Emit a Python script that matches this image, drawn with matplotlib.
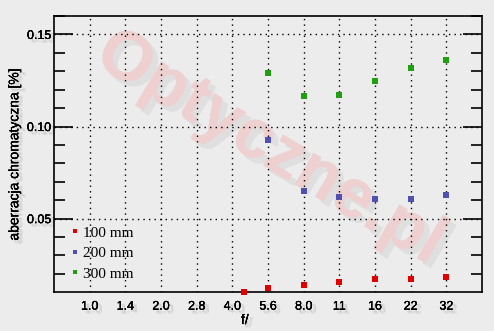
import numpy as np
import matplotlib
matplotlib.use("Agg")
import matplotlib.pyplot as plt
import matplotlib.patheffects as pe

# ---- data ----
tick_labels = ["1.0", "1.4", "2.0", "2.8", "4.0", "5.6", "8.0", "11", "16", "22", "32"]
f_100 = [4.5, 5.6, 8.0, 11, 16, 22, 32]
ca_100 = [0.0101, 0.0125, 0.0141, 0.0158, 0.0174, 0.0174, 0.0185]
f_200 = [5.6, 8.0, 11, 16, 22, 32]
ca_200 = [0.0927, 0.0652, 0.0620, 0.0609, 0.0609, 0.0630]
f_300 = [5.6, 8.0, 11, 16, 22, 32]
ca_300 = [0.1292, 0.1167, 0.1172, 0.1248, 0.1319, 0.1362]
series_names = ["100 mm", "200 mm", "300 mm"]
colors = ["#e00000", "#5050b0", "#20a010"]


def fpos(f):
    """aperture -> position on the stop scale (1 stop = 1 unit)."""
    p = 2 * np.log2(np.asarray(f, dtype=float))
    r = np.round(p)
    return np.where(np.abs(p - r) < 0.1, r, p)


bg = "#ececec"
plt.rcParams["font.family"] = ["Liberation Sans", "DejaVu Sans"]
fig = plt.figure(figsize=(4.94, 3.31), dpi=100, facecolor=bg)
ax = fig.add_axes([54 / 494, 1 - 292.3 / 331, 428 / 494, 276.3 / 331])
ax.set_facecolor(bg)


def soft_shadow(dx=2.0, alpha=0.12):
    return [pe.withSimplePatchShadow(offset=(dx + 1, -dx - 1), shadow_rgbFace="#707070", alpha=alpha),
            pe.withSimplePatchShadow(offset=(dx, -dx), shadow_rgbFace="#707070", alpha=alpha),
            pe.withSimplePatchShadow(offset=(dx + 1, -dx), shadow_rgbFace="#707070", alpha=alpha),
            pe.Normal()]


# watermark
wm = ax.text(0.505, 0.52, "Optyczne.pl", transform=ax.transAxes, rotation=-31,
             ha="center", va="center", fontsize=50, fontweight="bold",
             color="#eed0d0", zorder=0, clip_on=True,
             path_effects=[pe.withSimplePatchShadow(offset=(4, -4), shadow_rgbFace="#dadada", alpha=0.7),
                           pe.Normal()])

xs = [f_100, f_200, f_300]
ys = [ca_100, ca_200, ca_300]
for fx, cy, name, c in zip(xs, ys, series_names, colors):
    ax.plot(fpos(fx), cy, linestyle="none", marker="s", markersize=4.4,
            markeredgewidth=0, color=c, label=name, clip_on=False, zorder=5)

ax.set_xlim(-1, 11)
ax.set_ylim(0.01, 0.16)
ax.set_xticks(np.arange(len(tick_labels)))
ax.set_xticklabels(tick_labels)
ax.set_yticks([0.05, 0.10, 0.15])
ax.set_yticklabels(["0.05", "0.10", "0.15"])
ax.set_yticks(np.arange(0.02, 0.16, 0.01), minor=True)

ax.tick_params(axis="x", length=0, pad=6, labelsize=9)
ax.tick_params(axis="y", which="major", direction="in", length=14, width=1.2,
               left=True, right=True, pad=2, labelsize=9)
ax.tick_params(axis="y", which="minor", direction="in", length=8, width=1.2,
               left=True, right=True)
for lab in ax.get_xticklabels() + ax.get_yticklabels():
    lab.set_path_effects(soft_shadow())

ax.grid(True, axis="x", color="black", linestyle=(0, (1, 3)), linewidth=1)
ax.grid(True, axis="y", which="major", color="black", linestyle=(0, (1, 3)), linewidth=1)
for s in ax.spines.values():
    s.set_linewidth(1.2)

ax.set_ylabel("aberracja chromatyczna [%]", fontsize=10, labelpad=4, path_effects=soft_shadow())
ax.set_xlabel("f/", fontsize=10, labelpad=2, path_effects=soft_shadow())
ax.xaxis.set_label_coords(0.446, -0.075)

leg = ax.legend(loc="center left", bbox_to_anchor=(0.026, 0.141), frameon=False,
                prop={"family": "Liberation Serif", "size": 11},
                markerscale=0.8, handlelength=0.5, handletextpad=0.25,
                labelspacing=0.45, borderaxespad=0.0)

fig.savefig("out.png", dpi=100, facecolor=bg)
